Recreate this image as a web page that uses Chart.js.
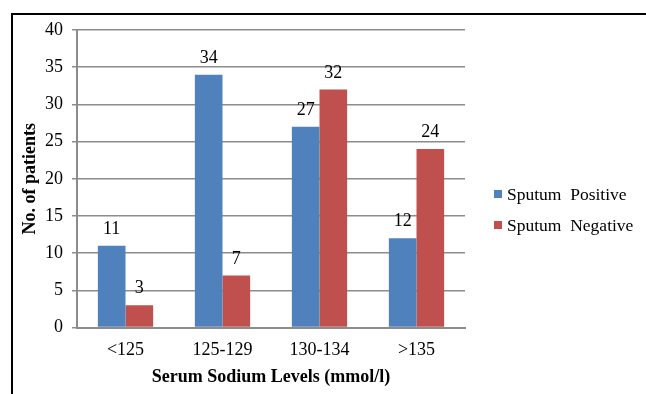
<!DOCTYPE html>
<html>
<head>
<meta charset="utf-8">
<script src="https://cdn.jsdelivr.net/npm/chart.js@4/dist/chart.umd.min.js"></script>
<style>
  html, body { margin: 0; padding: 0; background: #fff; }
  #wrap { position: relative; width: 646px; height: 394px; overflow: hidden; }
  #frame { position: absolute; left: 11px; top: 13px; width: 700px; height: 500px; border: 2px solid #000; box-sizing: border-box; }
  canvas { position: absolute; left: 0; top: 0; }
</style>
</head>
<body>
<div id="wrap">
  <div id="frame"></div>
  <canvas id="sodiumChart" width="646" height="394"></canvas>
</div>
<script>
const categories = ['<125', '125-129', '130-134', '>135'];
const positive = [11, 34, 27, 12];
const negative = [3, 7, 32, 24];
const yTicks = [0, 5, 10, 15, 20, 25, 30, 35, 40];

const serif = '"Liberation Serif", "Times New Roman", serif';

// labels above each bar
const barLabels = {
  id: 'barLabels',
  afterDatasetsDraw(chart) {
    const ctx = chart.ctx;
    ctx.save();
    ctx.font = '18px ' + serif;
    ctx.fillStyle = '#000';
    ctx.textAlign = 'center';
    ctx.textBaseline = 'alphabetic';
    chart.data.datasets.forEach((ds, i) => {
      chart.getDatasetMeta(i).data.forEach((bar, j) => {
        ctx.fillText(ds.data[j], bar.x, bar.y - 12);
      });
    });
    ctx.restore();
  }
};

// legend on the right, like the original
const sideLegend = {
  id: 'sideLegend',
  afterDraw(chart) {
    const ctx = chart.ctx;
    ctx.save();
    ctx.font = '17.5px ' + serif;
    ctx.textBaseline = 'middle';
    chart.data.datasets.forEach((ds, i) => {
      const y = 194 + i * 31;
      ctx.fillStyle = ds.backgroundColor;
      ctx.fillRect(494, y - 4, 8, 8);
      ctx.fillStyle = '#000';
      ctx.fillText(ds.label, 507, y + 1);
    });
    ctx.restore();
  }
};

new Chart(document.getElementById('sodiumChart'), {
  type: 'bar',
  data: {
    labels: categories,
    datasets: [
      { label: 'Sputum  Positive', data: positive, backgroundColor: '#4F81BD' },
      { label: 'Sputum  Negative', data: negative, backgroundColor: '#C0504D' }
    ]
  },
  options: {
    responsive: false,
    animation: false,
    devicePixelRatio: 1,
    layout: { padding: { left: 20, top: 30, right: 181, bottom: 6 } },
    barPercentage: 1,
    categoryPercentage: 0.57,
    plugins: {
      legend: { display: false },
      tooltip: { enabled: false }
    },
    scales: {
      x: {
        grid: { display: false, drawTicks: false },
        border: { color: '#8c8c8c', width: 2 },
        ticks: { color: '#000', font: { family: serif, size: 18 }, padding: 12, maxRotation: 0 },
        title: { display: true, text: 'Serum Sodium Levels (mmol/l)', color: '#000', font: { family: serif, size: 18, weight: 'bold' }, padding: { top: 4, bottom: 0 } },
        afterFit(scale) { scale.height = 60.4; }
      },
      y: {
        min: 0,
        max: 40,
        afterBuildTicks(scale) { scale.ticks = yTicks.map(v => ({ value: v })); },
        grid: { color: '#8c8c8c', lineWidth: 1.5, tickLength: 5, drawTicks: true },
        border: { color: '#8c8c8c', width: 2 },
        ticks: { color: '#000', font: { family: serif, size: 18 }, padding: 9 },
        title: { display: true, text: 'No. of patients', color: '#000', font: { family: serif, size: 18, weight: 'bold' }, padding: 0 },
        afterFit(scale) { scale.width = 57; }
      }
    }
  },
  plugins: [barLabels, sideLegend]
});
</script>
</body>
</html>
